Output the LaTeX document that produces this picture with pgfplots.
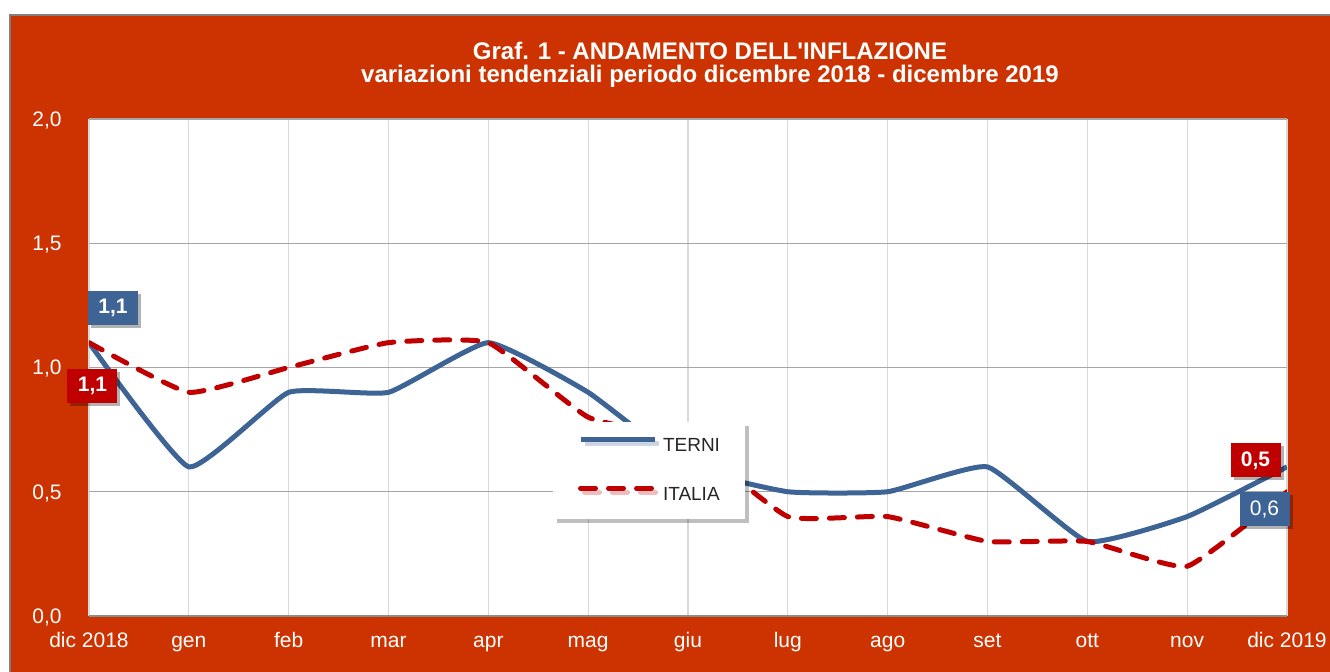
\documentclass[border=0pt]{standalone}
\usepackage{pgfplots}
\pgfplotsset{compat=1.18}
\usepackage{fontspec}
\setmainfont{Liberation Sans}
\newfontfamily\plainsans{Liberation Sans}
\usetikzlibrary{shadows}
\definecolor{bgor}{RGB}{204,51,0}
\definecolor{terni}{RGB}{61,100,148}
\definecolor{italia}{RGB}{192,0,0}
\pgfplotstableread{
x y
0 1.1
1 0.6
2 0.9
3 0.9
4 1.1
5 0.9
6 0.6
7 0.5
8 0.5
9 0.6
10 0.3
11 0.4
12 0.6
}\terni
\pgfplotstableread{
x y
0 1.1
1 0.9
2 1.0
3 1.1
4 1.1
5 0.8
6 0.7
7 0.4
8 0.4
9 0.3
10 0.3
11 0.2
12 0.5
}\italia
\begin{document}
\begin{tikzpicture}
\path[use as bounding box] (0,0) rectangle (665pt,336pt);
\fill[white] (0,0) rectangle (665pt,336pt);
\fill[bgor] (5pt,0) rectangle (665pt,328.5pt);
\draw[gray, line width=1pt] (5pt,0) -- (5pt,328.5pt) -- (665pt,328.5pt);
\node[anchor=base, text=white, inner sep=0pt, font=\plainsans\bfseries\fontsize{12}{14}\selectfont] at (355pt,306pt) {Graf. 1 - ANDAMENTO DELL'INFLAZIONE};
\node[anchor=base, text=white, inner sep=0pt, font=\bfseries\fontsize{12}{14}\selectfont] at (355pt,294.5pt) {variazioni tendenziali periodo dicembre 2018 - dicembre 2019};
\begin{axis}[
  at={(44.5pt,28pt)}, anchor=south west,
  scale only axis, width=599pt, height=248.5pt,
  xmin=0, xmax=12, ymin=0, ymax=2,
  clip mode=individual,
  axis background/.style={fill=white},
  xtick={0,...,12},
  xticklabels={dic 2018,gen,feb,mar,apr,mag,giu,lug,ago,set,ott,nov,dic 2019},
  ytick={0,0.5,1,1.5,2},
  major tick length=0pt,
  xmajorgrids, ymajorgrids,
  x grid style={draw={rgb,255:red,217;green,217;blue,217}, line width=0.6pt},
  y grid style={draw={rgb,255:red,166;green,166;blue,166}, line width=0.6pt},
  axis x line*=bottom, axis y line*=left,
  x axis line style={draw={rgb,255:red,140;green,140;blue,140}, line width=1.2pt},
  y axis line style={draw=none},
  tick label style={text=white, inner sep=0pt, font=\fontsize{10.5}{12}\selectfont},
  xticklabel style={anchor=base, yshift=-16pt},
  yticklabel style={anchor=base east, xshift=-13.5pt, yshift=-3.75pt},
  /pgf/number format/.cd, fixed, fixed zerofill, precision=1, use comma, assume math mode=true,
  /pgfplots/.cd,
  legend image code/.code={\draw[#1] (0pt,3.4pt) -- (37pt,3.4pt);},
  legend cell align=left,
  legend style={at={(0.387,0.392)}, anchor=north west, draw=none, fill=white,
    drop shadow={shadow xshift=2pt, shadow yshift=-2pt, fill=black, opacity=0.25},
    inner xsep=12.5pt, inner ysep=7.8pt, row sep=15.7pt,
    font=\fontsize{9.5}{11}\selectfont, text=black!85,
    nodes={inner sep=0pt},
    /tikz/every odd column/.append style={column sep=3pt}},
]
\addplot[terni, line width=2.5pt, smooth, tension=0.25] table[x=x,y=y] {\terni};
\addlegendentry{TERNI}
\addplot[italia, line width=2.5pt, smooth, tension=0.25, line cap=round, dash pattern=on 7.5pt off 6.5pt] table[x=x,y=y] {\italia};
\addlegendentry{ITALIA}
\node[fill=terni, text=white, font=\bfseries\fontsize{10.5}{12}\selectfont, minimum width=25pt, minimum height=17pt, inner sep=0pt,
  drop shadow={shadow xshift=1.5pt, shadow yshift=-1.5pt, fill=black, opacity=0.3}] at (axis cs:0.24,1.239) {1,1};
\node[fill=italia, text=white, font=\bfseries\fontsize{10.5}{12}\selectfont, minimum width=25pt, minimum height=17pt, inner sep=0pt,
  drop shadow={shadow xshift=1.5pt, shadow yshift=-1.5pt, fill=black, opacity=0.3}] at (axis cs:0.035,0.926) {1,1};
\node[fill=italia, text=white, font=\bfseries\fontsize{10.5}{12}\selectfont, minimum width=25pt, minimum height=17pt, inner sep=0pt,
  drop shadow={shadow xshift=1.5pt, shadow yshift=-1.5pt, fill=black, opacity=0.3}] at (axis cs:11.685,0.626) {0,5};
\node[fill=terni, text=white, font=\fontsize{10.5}{12}\selectfont, minimum width=25pt, minimum height=17pt, inner sep=0pt,
  drop shadow={shadow xshift=1.5pt, shadow yshift=-1.5pt, fill=black, opacity=0.3}] at (axis cs:11.775,0.4286) {0,6};
\end{axis}
\end{tikzpicture}
\end{document}
